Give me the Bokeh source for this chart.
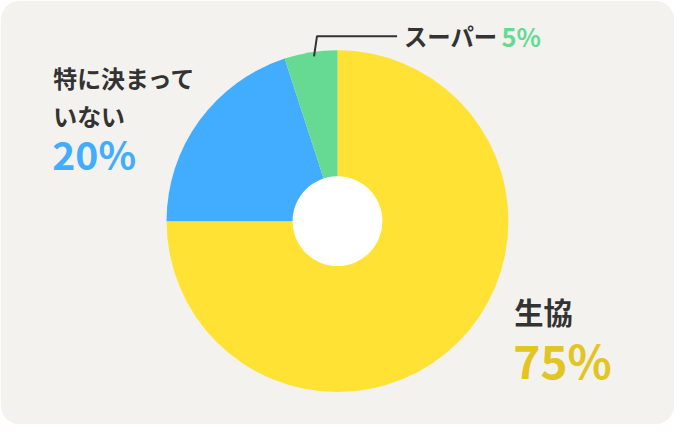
import numpy as np
from bokeh.plotting import figure
from bokeh.models import Range1d, ColumnDataSource
from bokeh.core.properties import value
from bokeh.embed import file_html
from bokeh.resources import INLINE

# ---- data ----
categories = ["生協", "特に決まっていない", "スーパー"]
shares = [75, 20, 5]
slice_colors = ["#FFE233", "#42ADFE", "#66DA93"]
pct_colors = ["#E2C523", "#42ADFE", "#66DA93"]
pct_labels = ["75%", "20%", "5%"]

W, H = 674, 424
REF_W, REF_H = 690, 440
S = W / REF_W  # font scale
FONT = "Noto Sans CJK JP"
TXT = "#333333"

# data coordinates = reference pixel coords (y flipped: y = 440 - py)
p = figure(width=W, height=H, output_backend="svg", toolbar_location=None,
           x_range=Range1d(0, REF_W), y_range=Range1d(0, REF_H),
           min_border=0, border_fill_color="white", background_fill_color="white")
p.axis.visible = False
p.grid.visible = False
p.outline_line_color = None

# rounded background
p.quad(left=[0], right=[REF_W], bottom=[0], top=[REF_H], fill_color="#F3F2EF",
       line_color=None, border_radius=20)

# donut
cx, cy, R, r_in = 345, REF_H - 229, 175, 46
frac = np.array(shares, dtype=float) / sum(shares)
cum = np.concatenate([[0], np.cumsum(frac)])
start_deg = 90 - 360 * cum[:-1]
end_deg = 90 - 360 * cum[1:]
src = ColumnDataSource(dict(
    start=np.radians(end_deg), end=np.radians(start_deg),
    color=slice_colors, cat=categories))
p.wedge(x=cx, y=cy, radius=R, start_angle="start", end_angle="end",
        direction="anticlock", fill_color="color", line_color=None, source=src)
p.circle(x=[cx], y=[cy], radius=r_in, fill_color="white", line_color=None)

# leader line for スーパー
p.line(x=[321, 324, 406], y=[REF_H - 58, REF_H - 37, REF_H - 37],
       line_color=TXT, line_width=2)

def txt(x, y, s, size, color):
    p.text(x=[x], y=[REF_H - y], text=[s], text_font=value(FONT),
           text_font_size=f"{size * S:.1f}px", text_font_style="bold",
           text_color=color, text_align="left", text_baseline="middle")

# 生協
txt(526, 322, categories[0], 30, TXT)
txt(525, 372, pct_labels[0], 47, pct_colors[0])
# 特に決まっていない
txt(54, 80, "特に決まって", 24.5, TXT)
txt(54, 119, "いない", 24.5, TXT)
txt(53, 158, pct_labels[1], 40, pct_colors[1])
# スーパー
txt(413, 37, categories[2], 24, TXT)
txt(513, 37, pct_labels[2], 26, pct_colors[2])

open("out.html", "w").write(file_html(p, INLINE))
